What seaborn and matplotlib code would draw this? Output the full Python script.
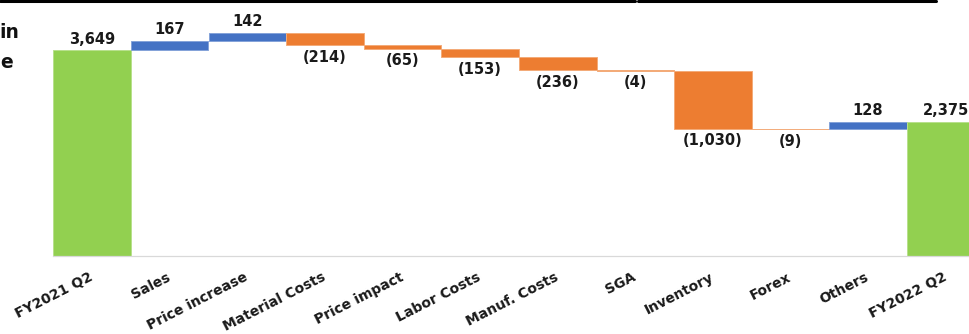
import numpy as np
import pandas as pd
import seaborn as sns
import matplotlib
matplotlib.use("Agg")
import matplotlib.pyplot as plt
from matplotlib.lines import Line2D
import matplotlib.colors as mcolors

categories = ["FY2021 Q2", "Sales", "Price increase", "Material Costs", "Price impact",
              "Labor Costs", "Manuf. Costs", "SGA", "Inventory", "Forex", "Others", "FY2022 Q2"]
changes = [3649, 167, 142, -214, -65, -153, -236, -4, -1030, -9, 128, 2375]
is_total = [True, False, False, False, False, False, False, False, False, False, False, True]

GREEN = "#92D050"
BLUE = "#4472C4"
ORANGE = "#ED7D31"

# waterfall geometry
bottoms, heights, colors = [], [], []
running = 0
for v, tot in zip(changes, is_total):
    if tot:
        bottoms.append(0)
        heights.append(v)
        colors.append(GREEN)
        running = v
    else:
        bottoms.append(running)
        heights.append(v)
        colors.append(BLUE if v >= 0 else ORANGE)
        running += v

df = pd.DataFrame({"category": categories, "height": heights})

sns.set_style("white")
plt.rcParams["font.family"] = ["DejaVu Sans"]

W, H = 970, 334
fig = plt.figure(figsize=(W / 100, H / 100), dpi=100)
ax_left = 53.3 / W
ax_w = 12 * 77.6 / W
ax_bottom = (H - 255.5) / H
ymax = 4400
ax_h = (ymax * 0.05626) / H
ax = fig.add_axes([ax_left, ax_bottom, ax_w, ax_h])

sns.barplot(data=df, x="category", y="height", order=categories, bottom=np.array(bottoms),
            width=1.0, errorbar=None, color=GREEN, ax=ax)

def lighten(c, f=0.35):
    r, g, b = mcolors.to_rgb(c)
    return (r + (1 - r) * f, g + (1 - g) * f, b + (1 - b) * f)

for patch, c in zip(ax.patches, colors):
    patch.set_facecolor(c)
    patch.set_edgecolor(lighten(c))
    patch.set_linewidth(0.7)

ax.set_xlim(-0.5, len(categories) - 0.5)
ax.set_ylim(0, ymax)
ax.set_xlabel("")
ax.set_ylabel("")
ax.set_yticks([])
for s in ["top", "left", "right"]:
    ax.spines[s].set_visible(False)
ax.spines["bottom"].set_color("#D9D9D9")
ax.spines["bottom"].set_linewidth(0.9)
ax.tick_params(axis="x", length=0, pad=15)
ax.set_xticks(range(len(categories)))
ax.set_xticklabels(categories, rotation=27, ha="right", va="center",
                   rotation_mode="anchor", fontsize=10, fontweight="bold", color="#1a1a1a")

# data labels
for i, (v, b, tot) in enumerate(zip(changes, bottoms, is_total)):
    if tot or v >= 0:
        top = b + v
        txt = f"{v:,}"
        ax.annotate(txt, (i, top), xytext=(0, 4.8), textcoords="offset points",
                    ha="center", va="baseline", fontsize=10.5, fontweight="bold", color="#1a1a1a")
    else:
        low = b + v
        txt = f"({abs(v):,})"
        ax.annotate(txt, (i, low), xytext=(0, -3.5), textcoords="offset points",
                    ha="center", va="top", fontsize=10.5, fontweight="bold", color="#1a1a1a")

# cropped artifacts from the original slide
fig.text(-1 / W, 1 - 38 / H, "in", fontsize=13.5, fontweight="bold", ha="left", va="baseline",
         color="#111111")
fig.text(0, 1 - 68 / H, "e", fontsize=13.5, fontweight="bold", ha="left", va="baseline",
         color="#111111")
fig.add_artist(Line2D([0, 635 / W], [1 - 1.3 / H, 1 - 1.3 / H], transform=fig.transFigure,
                      color="black", linewidth=2.2))
fig.add_artist(Line2D([638 / W, 936 / W], [1 - 1.3 / H, 1 - 1.3 / H], transform=fig.transFigure,
                      color="black", linewidth=2.2))

fig.savefig("out.png", dpi=100)
